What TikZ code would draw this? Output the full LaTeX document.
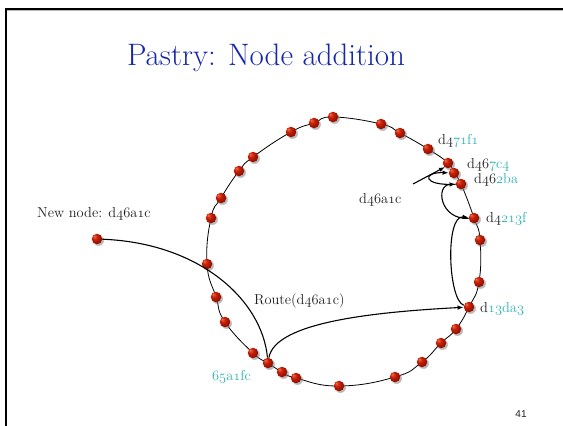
\documentclass[tikz,border=0pt]{standalone}
\usepackage{fontspec}
\newfontfamily\arialfont{Liberation Sans}
\usetikzlibrary{arrows.meta,shadows}
\definecolor{titleblue}{RGB}{22,40,168}
\definecolor{tealtxt}{RGB}{48,178,184}
\definecolor{ink}{RGB}{30,30,30}
\definecolor{ballhi}{RGB}{240,110,70}
\definecolor{ballmid}{RGB}{200,32,8}
\definecolor{balldark}{RGB}{145,14,0}
\definecolor{balledge}{RGB}{75,0,0}
\pgfdeclareradialshading{redball}{\pgfpoint{-14bp}{14bp}}{color(0bp)=(ballhi); color(12bp)=(ballmid); color(28bp)=(balldark); color(50bp)=(balledge)}
\newcommand{\osn}[1]{{\usefont{OML}{cmm}{m}{it}#1}}
\newcommand{\tl}[1]{\textcolor{tealtxt}{#1}}
\tikzset{
  ringline/.style={draw=black, line width=0.8pt},
  ballnode/.style={circle, inner sep=0pt, minimum size=10.5pt, shading=redball,
    circular drop shadow={shadow xshift=1.2pt, shadow yshift=-1.2pt, fill=black!50, opacity=0.55}},
  link/.style={draw=black, line width=1.1pt},
  arr/.style={-{Latex[length=6pt,width=4.5pt]}},
  lbl/.style={inner sep=0pt, anchor=base west, text=ink, font=\fontsize{14.4}{17}\selectfont},
}
\begin{document}
\begin{tikzpicture}[x=1pt,y=-1pt]
\useasboundingbox (0,0) rectangle (563,426);
% frame
\draw[gray!55, line width=1pt] (7,10.8) -- (563,10.8);
\draw[black, line width=2pt] (6,427) -- (6,9) -- (564,9);
% title
\node[anchor=base, inner sep=0pt, text=titleblue, font=\fontsize{31}{36}\selectfont] (title) at (266,65) {Pastry: Node addition};
% ring
\draw[ringline] plot[smooth cycle, tension=0.8] coordinates {
 (333,117) (381,124) (400,133) (428,149) (448,163) (454,173) (461,184) (474,218)
 (480,240) (479,282) (469,307) (456,329) (441,343) (422,362) (395,377) (339,386)
 (296,378) (282,372) (268,363) (253,353) (225,322) (216,297) (207,264) (211,218)
 (221,198) (239,171) (253,157) (291,132) (314,123)};
% dots
\foreach \x/\y/\n in {333/117/r1, 381/124/r2, 400/133/r3, 428/149/r4, 448/163/r5,
  454/173/r6, 461/184/r7, 474/218/r8, 480/240/r9, 479/282/r10, 469/307/r11,
  456/329/r12, 441/343/r13, 422/362/r14, 395/377/r15, 339/386/r16, 296/378/r17,
  282/372/r18, 268/363/r19, 253/353/r20, 225/322/r21, 216/297/r22, 207/264/r23,
  211/218/r24, 221/198/r25, 239/171/r26, 253/157/r27, 291/132/r28, 314/123/r29}
  {\node[ballnode] (\n) at (\x,\y) {};}
\node[ballnode] (nn) at (97,239) {};
% labels
\node[lbl] (lnew) at (37,217) {New node: d\osn{46}a\osn{1}c};
\node[lbl] (lroute) at (254,304) {Route(d\osn{46}a\osn{1}c)};
\node[lbl] (l65) at (212,380) {\tl{\osn{65}a\osn{1}fc}};
\node[lbl] (l13) at (480,312) {d\tl{\osn{13}da\osn{3}}};
\node[lbl] (l4213) at (486,222) {d\osn{4}\tl{\osn{213}f}};
\node[lbl] (l2ba) at (474,183) {d\osn{46}\tl{\osn{2}ba}};
\node[lbl] (l7c4) at (467,168) {d\osn{46}\tl{\osn{7}c\osn{4}}};
\node[lbl] (l71f1) at (438,144) {d\osn{4}\tl{\osn{71}f\osn{1}}};
\node[lbl] (la1c) at (359,203) {d\osn{46}a\osn{1}c};
\node[anchor=base, inner sep=0pt, text=ink, font=\arialfont\fontsize{10}{12}\selectfont] (pg) at (521,417) {41};
% connectors
\draw[link] (nn) .. controls (200,243) and (262,300) .. (r19);
\draw[link,arr] (r19) .. controls (275,322) and (375,312) .. (r11);
\draw[link,arr] (r11) .. controls (448,300) and (445,215) .. (r8);
\draw[link,arr] (r8) .. controls (440,220) and (435,185) .. (r7);
\draw[link,arr] (r7) .. controls (422,186) and (422,172) .. (r6);
\coordinate (as) at (413,184);
\coordinate (ae) at (445,167);
\draw[link,arr] (as) -- (ae);
\end{tikzpicture}
\end{document}
